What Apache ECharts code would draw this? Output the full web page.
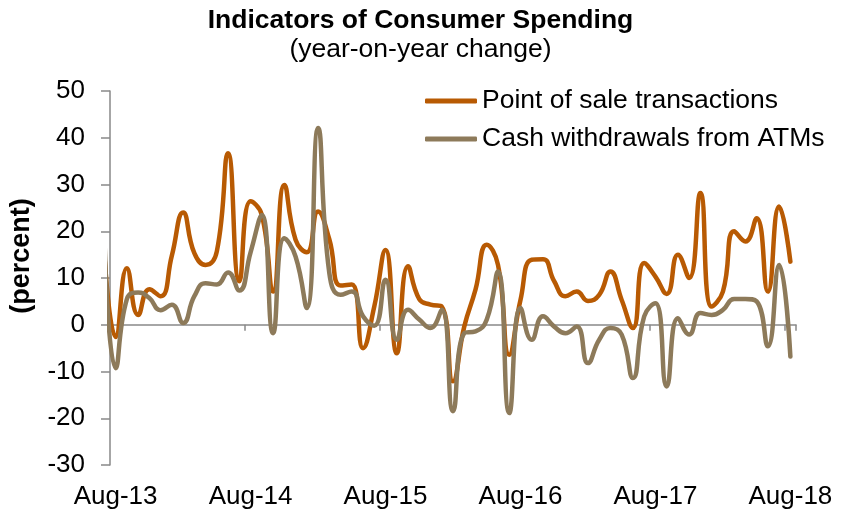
<!DOCTYPE html>
<html><head><meta charset="utf-8">
<script src="https://cdn.jsdelivr.net/npm/echarts@6/dist/echarts.min.js"></script>
<style>html,body{margin:0;padding:0;background:#fff}#c{width:841px;height:513px}</style>
</head><body><div id="c"></div>
<script>
// First month (Jul-13) lies before the axis start and is clipped, as in the reference
const months = ['Jul-13',
 'Aug-13','Sep-13','Oct-13','Nov-13','Dec-13','Jan-14','Feb-14','Mar-14','Apr-14','May-14','Jun-14','Jul-14',
 'Aug-14','Sep-14','Oct-14','Nov-14','Dec-14','Jan-15','Feb-15','Mar-15','Apr-15','May-15','Jun-15','Jul-15',
 'Aug-15','Sep-15','Oct-15','Nov-15','Dec-15','Jan-16','Feb-16','Mar-16','Apr-16','May-16','Jun-16','Jul-16',
 'Aug-16','Sep-16','Oct-16','Nov-16','Dec-16','Jan-17','Feb-17','Mar-17','Apr-17','May-17','Jun-17','Jul-17',
 'Aug-17','Sep-17','Oct-17','Nov-17','Dec-17','Jan-18','Feb-18','Mar-18','Apr-18','May-18','Jun-18','Jul-18',
 'Aug-18'];
const pointOfSale = [15, -2.6, 12.1, 2.1, 7.6, 6.1, 14.8, 24.0, 15.3, 12.8, 15.7, 36.7, 9.3,
 26.4, 23.5, 7.1, 29.9, 18.2, 15.5, 24.2, 18.3, 8.4, 8.6, -5.0, 3.9,
 16.0, -6.1, 12.5, 5.5, 4.3, 3.9, -12.1, -0.4, 7.5, 17.1, 12.8, -6.4,
 5.3, 13.9, 14.0, 9.3, 6.1, 7.1, 5.1, 6.4, 11.4, 5.3, -0.7, 13.2,
 10.3, 6.6, 15.0, 10.0, 28.2, 3.9, 7.1, 20.0, 17.8, 22.8, 7.1, 25.3,
 13.5];
const atmCash = [19, -9.3, 5.5, 6.9, 5.7, 3.1, 4.3, 0.4, 6.1, 8.9, 8.6, 11.2, 7.3,
 15.5, 23.5, -1.8, 18.5, 14.6, 3.6, 42.1, 11.1, 6.4, 7.1, 1.8, -0.2,
 9.6, -3.2, 3.2, 1.1, -0.7, 3.2, -18.5, -1.8, -1.4, 1.1, 11.4, -18.9,
 3.6, -3.2, 1.8, -0.4, -1.8, -0.4, -8.2, -3.2, -0.7, -2.1, -11.4, 1.8,
 4.6, -13.2, 1.4, -2.1, 2.5, 2.1, 3.2, 5.5, 5.5, 5.0, -4.6, 12.8,
 -6.8];
const seriesNames = ['Point of sale transactions', 'Cash withdrawals from ATMs'];
const yMin = -30, yMax = 50, yStep = 10;

const axisCats = months.slice(1);
const FONT = 'Liberation Sans, Arial, sans-serif';
const GREY = '#898989';
const chart = echarts.init(document.getElementById('c'), null, {renderer: 'canvas'});
chart.setOption({
  animation: false,
  backgroundColor: '#fff',
  title: {
    text: 'Indicators of Consumer Spending',
    subtext: '(year-on-year change)',
    left: 'center', top: 2, itemGap: 2,
    textStyle: {fontFamily: FONT, fontSize: 26.5, fontWeight: 'bold', color: '#000'},
    subtextStyle: {fontFamily: FONT, fontSize: 26.5, color: '#000'}
  },
  legend: {
    orient: 'vertical', left: 420, top: 81, itemGap: 8,
    itemWidth: 52, itemHeight: 5, icon: 'roundRect',
    textStyle: {fontFamily: FONT, fontSize: 26.5, color: '#000', lineHeight: 30},
    data: seriesNames
  },
  graphic: [{
    type: 'text', x: 22, y: 256, rotation: Math.PI / 2,
    style: {text: '(percent)', font: 'bold 27px ' + FONT, fill: '#000', align: 'center', verticalAlign: 'middle'}
  }],
  grid: {left: 110, right: 45, top: 91, bottom: 48, containLabel: false},
  xAxis: [
    { type: 'category', data: axisCats, boundaryGap: true, position: 'bottom',
      axisLine: {show: true, onZero: true, lineStyle: {color: GREY, width: 1.5}},
      axisTick: {show: true, interval: 11, length: 6, lineStyle: {color: GREY, width: 1.5}},
      axisLabel: {show: false}, splitLine: {show: false} },
    { type: 'category', data: axisCats, boundaryGap: true, position: 'bottom',
      axisLine: {show: false, onZero: false}, axisTick: {show: false},
      axisLabel: {show: true, interval: 11, margin: 19, fontFamily: FONT, fontSize: 26, color: '#000'},
      splitLine: {show: false} },
    { type: 'value', min: 0.5, max: months.length - 0.5, show: false, position: 'bottom',
      axisLine: {onZero: false}, splitLine: {show: false} }
  ],
  yAxis: {
    type: 'value', min: yMin, max: yMax, interval: yStep,
    axisLine: {show: true, lineStyle: {color: GREY, width: 1.5}},
    axisTick: {show: true, length: 9, lineStyle: {color: GREY, width: 1.5}},
    axisLabel: {margin: 25, fontFamily: FONT, fontSize: 26, color: '#000'},
    splitLine: {show: false}
  },
  series: [
    { name: seriesNames[0], type: 'line', xAxisIndex: 2, smooth: 0.5, symbol: 'none', clip: true,
      data: months.map((m, i) => [i, pointOfSale[i]]),
      itemStyle: {color: '#B85A03'},
      lineStyle: {color: '#B85A03', width: 4.5, cap: 'round', join: 'round'} },
    { name: seriesNames[1], type: 'line', xAxisIndex: 2, smooth: 0.5, symbol: 'none', clip: true,
      data: months.map((m, i) => [i, atmCash[i]]),
      itemStyle: {color: '#8D7A5A'},
      lineStyle: {color: '#8D7A5A', width: 4.5, cap: 'round', join: 'round'} }
  ]
});
</script></body></html>
